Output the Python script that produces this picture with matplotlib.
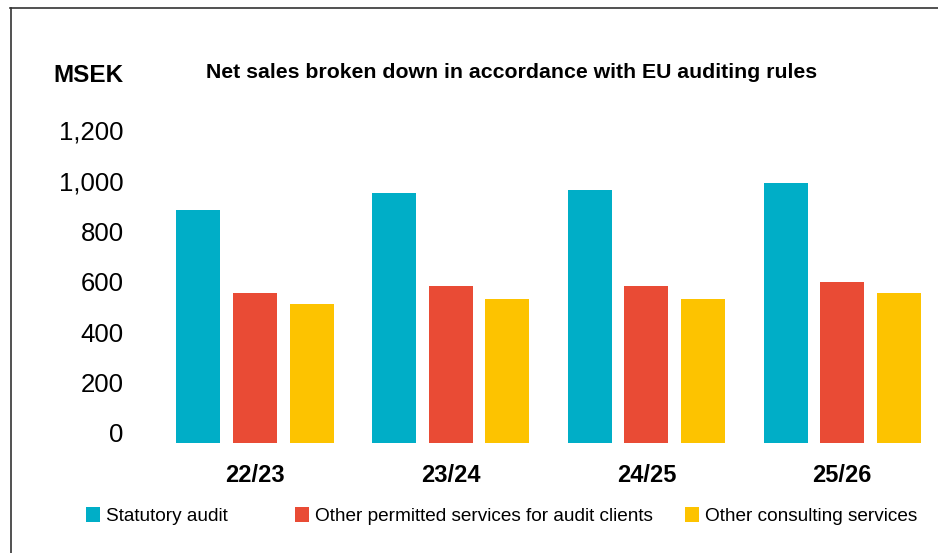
import matplotlib.pyplot as plt
from matplotlib.lines import Line2D
from matplotlib.transforms import ScaledTranslation
import numpy as np

periods = ['22/23', '23/24', '24/25', '25/26']
series = ['Statutory audit', 'Other permitted services for audit clients', 'Other consulting services']
statutory = [923, 990, 1002, 1030]
permitted = [594, 622, 622, 638]
consulting = [550, 570, 570, 594]
colors = ['#00AEC7', '#E94B35', '#FDC300']
yticks = [0, 200, 400, 600, 800, 1000, 1200]

W, H = 938, 553
fig = plt.figure(figsize=(W / 100, H / 100), dpi=100)

# axes placed in pixel terms: left 150, right 938, bottom y=443, top y=110
ax = fig.add_axes([150 / W, (H - 443) / H, (W - 150) / W, (443 - 110) / H])

x = np.arange(len(periods))
width = 0.225
step = 0.289
for i, (vals, name, c) in enumerate(zip([statutory, permitted, consulting], series, colors)):
    ax.bar(x + (i - 1) * step, vals, width, color=c, label=name)

ax.set_xlim(-0.5365, 3.490)
ax.set_ylim(0, 1319)
for s in ax.spines.values():
    s.set_visible(False)

ax.set_yticks(yticks)
ax.set_yticklabels([f'{v:,}' for v in yticks], fontsize=18.5, family='Liberation Sans')
ax.tick_params(axis='y', length=0, pad=19)
# labels sit a bit above their gridline in the original
off = ScaledTranslation(0, 0.10, fig.dpi_scale_trans)
for lab in ax.get_yticklabels():
    lab.set_transform(lab.get_transform() + off)

ax.set_xticks(x)
ax.set_xticklabels(periods, fontsize=17, fontweight='bold', family='Liberation Sans')
ax.tick_params(axis='x', length=0, pad=15)

fig.text(123 / W, 1 - 76 / H, 'MSEK', fontsize=17.5, fontweight='bold',
         family='Liberation Sans', ha='right', va='center')
fig.text(511.5 / W, 1 - 72 / H, 'Net sales broken down in accordance with EU auditing rules',
         fontsize=15.3, fontweight='bold', family='Liberation Sans', ha='center', va='center')

# legend entries placed one by one to match the uneven spacing
handles, labels = ax.get_legend_handles_labels()
starts = [86, 295, 685]
for h, l, sx in zip(handles, labels, starts):
    fig.legend([h], [l], loc='center left', bbox_to_anchor=(sx / W, 1 - 516 / H),
               frameon=False, borderpad=0, borderaxespad=0,
               handlelength=0.74, handleheight=0.84, handletextpad=0.32,
               prop={'family': 'Liberation Sans', 'size': 13.7})

# frame lines at top and left
fig.add_artist(Line2D([10 / W, 1], [1 - 8 / H, 1 - 8 / H], color='#333333', lw=1.2))
fig.add_artist(Line2D([10.5 / W, 10.5 / W], [0, 1 - 8 / H], color='#333333', lw=1.2))

fig.savefig('out.png', dpi=100)
